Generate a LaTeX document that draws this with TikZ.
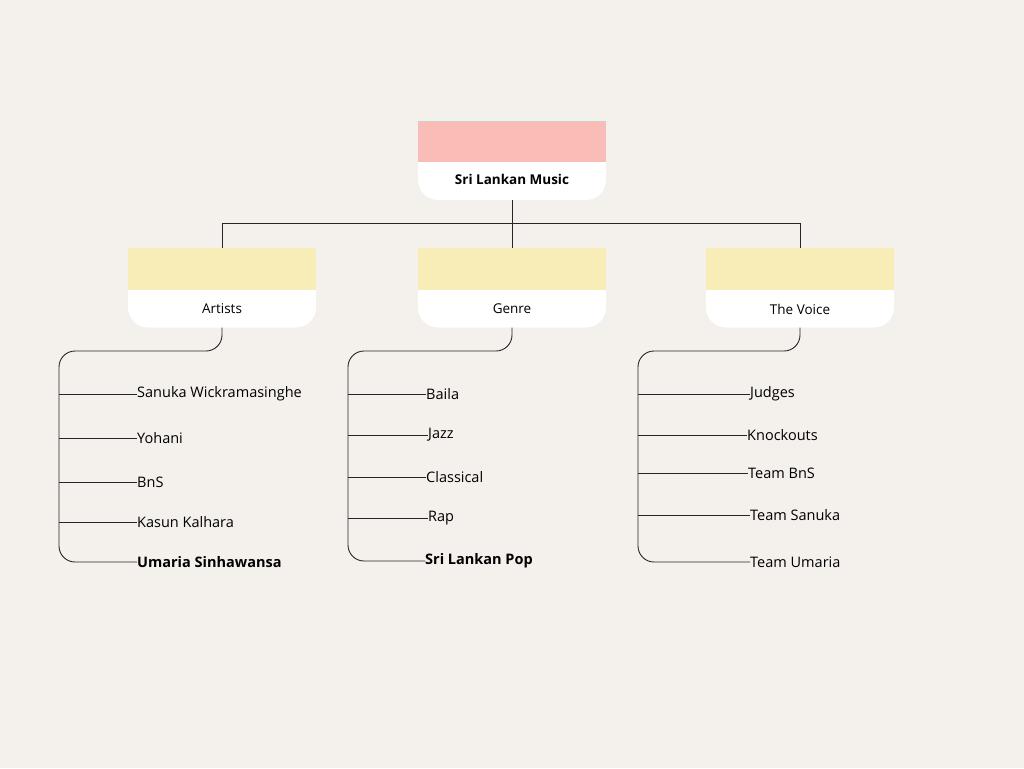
\documentclass[tikz,border=0pt]{standalone}
\usepackage{fontspec}
\setmainfont{Open Sans}
\definecolor{paper}{RGB}{244,240,235}
\definecolor{rootpink}{RGB}{250,188,182}
\definecolor{catyellow}{RGB}{248,236,183}
\begin{document}
\begin{tikzpicture}[x=1pt,y=-1pt,
    box/.style={fill=white,rounded corners=20pt,minimum width=188pt,minimum height=79pt,inner sep=0pt},
    title/.style={font=\fontsize{13.5}{15}\selectfont\bfseries},
    cat/.style={font=\fontsize{13.5}{15}\selectfont},
    leaf/.style={anchor=west,inner sep=0pt,font=\fontsize{14.5}{17}\selectfont},
    leafbold/.style={leaf,font=\fontsize{14.5}{17}\selectfont\bfseries},
    link/.style={draw=black!85,line width=0.9pt}]
    \fill[paper] (0,0) rectangle (1024,768);
    % boxes
    \node[box] (root) at (512,160.5) {};
    \fill[rootpink] (418,121) rectangle (606,162);
    \node[title] (roottext) at (512,179) {Sri Lankan Music};
    \node[box] (artists) at (222,288) {};
    \fill[catyellow] (128,248) rectangle (316,290);
    \node[cat] (artiststext) at (222,309) {Artists};
    \node[box] (genre) at (512,288) {};
    \fill[catyellow] (418,248) rectangle (606,290);
    \node[cat] (genretext) at (512,309) {Genre};
    \node[box] (voice) at (800,288) {};
    \fill[catyellow] (706,248) rectangle (894,290);
    \node[cat] (voicetext) at (800,309) {The Voice};
    % top links
    \draw[link] (root.south) -- (genre.north);
    \draw[link] (artists.north) -- ++(0,-25) -| (voice.north);
    % leaves
    \node[leaf] (a1) at (137,394) {Sanuka Wickramasinghe};
    \node[leaf] (a2) at (137,438) {Yohani};
    \node[leaf] (a3) at (137,482) {BnS};
    \node[leaf] (a4) at (137,522) {Kasun Kalhara};
    \node[leafbold] (a5) at (137,562) {Umaria Sinhawansa};
    \node[leaf] (g1) at (426,394) {Baila};
    \node[leaf] (g2) at (428,435) {Jazz};
    \node[leaf] (g3) at (426,477) {Classical};
    \node[leaf] (g4) at (428,518) {Rap};
    \node[leafbold] (g5) at (425,561) {Sri Lankan Pop};
    \node[leaf] (v1) at (750,394) {Judges};
    \node[leaf] (v2) at (747,435) {Knockouts};
    \node[leaf] (v3) at (748,473) {Team BnS};
    \node[leaf] (v4) at (750,515) {Team Sanuka};
    \node[leaf] (v5) at (750,562) {Team Umaria};
    % trunks
    \coordinate (atrunk) at (59,351);
    \coordinate (gtrunk) at (348,351);
    \coordinate (vtrunk) at (638,351);
    \draw[link,rounded corners=16pt] (artists.south) |- (atrunk) |- (a5.west);
    \draw[link,rounded corners=16pt] (genre.south) |- (gtrunk) |- (g5.west);
    \draw[link,rounded corners=16pt] (voice.south) |- (vtrunk) |- (v5.west);
    \draw[link] (atrunk |- a1.west) -- (a1.west);
    \draw[link] (atrunk |- a2.west) -- (a2.west);
    \draw[link] (atrunk |- a3.west) -- (a3.west);
    \draw[link] (atrunk |- a4.west) -- (a4.west);
    \draw[link] (gtrunk |- g1.west) -- (g1.west);
    \draw[link] (gtrunk |- g2.west) -- (g2.west);
    \draw[link] (gtrunk |- g3.west) -- (g3.west);
    \draw[link] (gtrunk |- g4.west) -- (g4.west);
    \draw[link] (vtrunk |- v1.west) -- (v1.west);
    \draw[link] (vtrunk |- v2.west) -- (v2.west);
    \draw[link] (vtrunk |- v3.west) -- (v3.west);
    \draw[link] (vtrunk |- v4.west) -- (v4.west);
\end{tikzpicture}
\end{document}
